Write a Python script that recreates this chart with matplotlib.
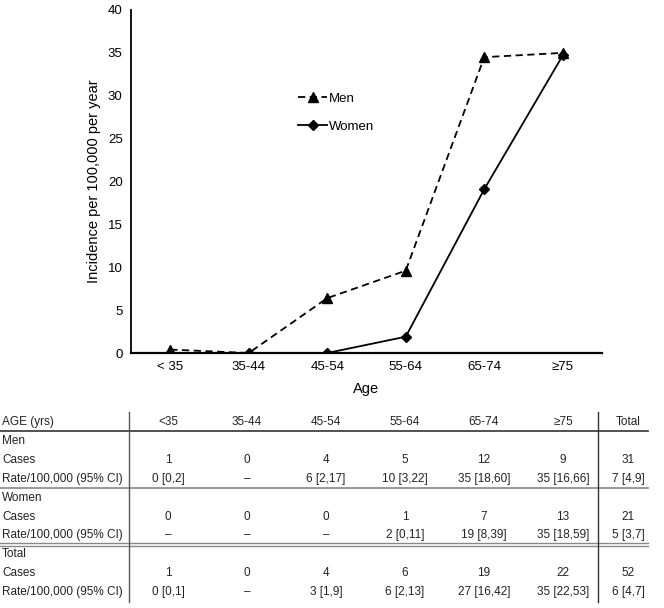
import matplotlib
matplotlib.use("Agg")
import matplotlib.pyplot as plt

plt.rcParams['font.family'] = ['Liberation Sans', 'DejaVu Sans']

# chart data
ages = ["< 35", "35-44", "45-54", "55-64", "65-74", "\u226575"]
men_rate = [0.4, 0.0, 6.4, 9.6, 34.5, 35.0]
women_rate = [0.0, 0.0, 0.0, 1.9, 19.1, 34.7]

# table data
col_heads = ["<35", "35-44", "45-54", "55-64", "65-74", "\u226575", "Total"]
men_cases = ["1", "0", "4", "5", "12", "9", "31"]
men_ci = ["0 [0,2]", "\u2013", "6 [2,17]", "10 [3,22]", "35 [18,60]", "35 [16,66]", "7 [4,9]"]
women_cases = ["0", "0", "0", "1", "7", "13", "21"]
women_ci = ["\u2013", "\u2013", "\u2013", "2 [0,11]", "19 [8,39]", "35 [18,59]", "5 [3,7]"]
total_cases = ["1", "0", "4", "6", "19", "22", "52"]
total_ci = ["0 [0,1]", "\u2013", "3 [1,9]", "6 [2,13]", "27 [16,42]", "35 [22,53]", "6 [4,7]"]

W, H = 664, 608
fig = plt.figure(figsize=(W / 100, H / 100), dpi=100)

# --- line chart
ax = fig.add_axes([131 / W, 1 - 353 / H, 471 / W, 343 / H])
x = range(len(ages))
ax.plot(x, men_rate, color='black', lw=1.3, ls=(0, (4, 2.5)), marker='^', ms=7, label='Men')
ax.plot(x, women_rate, color='black', lw=1.3, marker='D', ms=5, label='Women')
ax.set_xlim(-0.5, 5.5)
ax.set_ylim(0, 40)
ax.set_xticks(list(x))
ax.set_xticklabels(ages)
ax.set_yticks(range(0, 41, 5))
ax.tick_params(length=0, labelsize=9.5, pad=6)
for s in ['top', 'right']:
    ax.spines[s].set_visible(False)
ax.spines['left'].set_linewidth(1.3)
ax.spines['bottom'].set_linewidth(1.6)
ax.set_ylabel('Incidence per 100,000 per year', fontsize=10.5, labelpad=5)
ax.set_xlabel('Age', fontsize=10.5, labelpad=6)
ax.legend(loc='upper left', bbox_to_anchor=(0.355, 0.76), frameon=False, fontsize=9.5,
          handlelength=2.2, handletextpad=0.1, labelspacing=1.2, borderpad=0, borderaxespad=0)

# --- table below the chart (pixel coordinates)
tx = fig.add_axes([0, 0, 1, 1], zorder=-1)
tx.set_xlim(0, W)
tx.set_ylim(H, 0)
tx.axis('off')

col_x = [168, 247, 326, 405, 484, 563, 628]
row_y0, row_dy = 422, 18.9
rows = [
    ("AGE (yrs)", col_heads),
    ("Men", None),
    ("Cases", men_cases),
    ("Rate/100,000 (95% CI)", men_ci),
    ("Women", None),
    ("Cases", women_cases),
    ("Rate/100,000 (95% CI)", women_ci),
    ("Total", None),
    ("Cases", total_cases),
    ("Rate/100,000 (95% CI)", total_ci),
]
fs = 8.5
for i, (lab, vals) in enumerate(rows):
    y = row_y0 + i * row_dy
    tx.text(2, y, lab, fontsize=fs, ha='left', va='center', color='#222222')
    if vals:
        for cx, v in zip(col_x, vals):
            tx.text(cx, y, v, fontsize=fs, ha='center', va='center', color='#222222')

tx.plot([0, 648], [431, 431], color='#333333', lw=1.2)
tx.plot([0, 648], [488, 488], color='#888888', lw=1.2)
tx.plot([0, 648], [543, 543], color='#888888', lw=1.0)
tx.plot([0, 648], [546, 546], color='#888888', lw=1.0)
tx.plot([129, 129], [412, 602], color='#555555', lw=1.0)
tx.plot([598, 598], [412, 602], color='#333333', lw=1.0)

fig.savefig('out.png', dpi=100)
